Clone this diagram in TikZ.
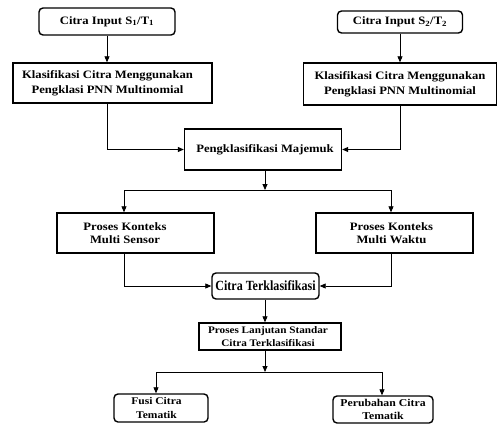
\documentclass[tikz,border=0pt]{standalone}
\usepackage{fontspec}
\setmainfont{Liberation Serif}
\newfontfamily\wfont[FakeStretch=1.12]{Liberation Serif}
\newfontfamily\cfont[FakeStretch=0.86]{Liberation Serif}
\usetikzlibrary{arrows.meta,calc}
\begin{document}
\begin{tikzpicture}[x=1pt,y=-1pt,
  box/.style={draw, line width=1.4pt, inner sep=0pt, align=center,
    font=\wfont\bfseries\fontsize{11.3}{15}\selectfont},
  rbox/.style={box, rounded corners=4pt},
  arr/.style={-{Triangle[length=6pt,width=5pt]}, line width=0.8pt},
  ln/.style={line width=0.8pt}]
\useasboundingbox (0,0) rectangle (498,424);
\fill[white] (0,0) rectangle (498,424);

\node[rbox, minimum width=136pt, minimum height=27pt] (in1) at (107,21.5) {Citra Input S\textsubscript{1}/T\textsubscript{1}};
\node[box, minimum width=199pt, minimum height=40pt] (kl1) at (112.5,83) {Klasifikasi Citra Menggunakan\hspace*{10pt}\\Pengklasi PNN Multinomial\hspace*{10pt}};
\node[rbox, minimum width=125pt, minimum height=22pt] (in2) at (400,22) {Citra Input S\textsubscript{2}/T\textsubscript{2}};
\node[box, minimum width=193pt, minimum height=42pt] (kl2) at (400,84) {Klasifikasi Citra Menggunakan\\Pengklasi PNN Multinomial};
\node[box, minimum width=157pt, minimum height=41pt] (maj) at (263,149.5) {\hspace*{4pt}Pengklasifikasi Majemuk};
\node[box, minimum width=157pt, minimum height=40pt, font=\wfont\bfseries\fontsize{11.3}{13.5}\selectfont] (sen) at (135.5,233) {Proses Konteks\hspace*{21pt}\\Multi Sensor\hspace*{21pt}};
\node[box, minimum width=157pt, minimum height=40pt, font=\wfont\bfseries\fontsize{11.3}{13.5}\selectfont] (wak) at (394.5,233) {Proses Konteks\hspace*{6pt}\\Multi Waktu\hspace*{6pt}};
\node[rbox, minimum width=107pt, minimum height=26pt, font=\cfont\bfseries\fontsize{14}{16}\selectfont] (ter) at (265.5,286) {Citra Terklasifikasi};
\node[box, minimum width=142pt, minimum height=27pt, font=\wfont\bfseries\fontsize{10}{13}\selectfont] (lan) at (270,336.5) {Proses Lanjutan Standar\hspace*{4pt}\\Citra Terklasifikasi\hspace*{4pt}};
\node[rbox, minimum width=94pt, minimum height=28pt, font=\wfont\bfseries\fontsize{10.3}{13.3}\selectfont] (fus) at (161,408) {Fusi Citra\hspace*{9pt}\\Tematik\hspace*{9pt}};
\node[rbox, minimum width=100pt, minimum height=27pt, font=\wfont\bfseries\fontsize{10.5}{13.3}\selectfont] (per) at (383,409.5) {Perubahan Citra\\Tematik};

\coordinate (c) at (265,0);
\coordinate (j1) at (265,190);
\coordinate (j2) at (265,372);

\draw[arr] (in1.south) -- (in1.south |- kl1.north);
\draw[arr] (in2.south) -- (in2.south |- kl2.north);
\draw[arr] (kl1.south -| in1.south) |- (maj.west);
\draw[arr] (kl2.south -| in2.south) |- (maj.east);
\draw[arr] (maj.south -| c) -- (j1);
\draw[arr] (j1) -| ([xshift=-11.5pt]sen.north);
\draw[arr] (j1) -| ([xshift=-3.5pt]wak.north);
\draw[arr] ([xshift=-11.5pt]sen.south) |- (ter.west);
\draw[arr] ([xshift=-3.5pt]wak.south) |- (ter.east);
\draw[arr] (ter.south -| c) -- (lan.north -| c);
\draw[arr] (lan.south -| c) -- (j2);
\draw[arr] (j2) -| ([xshift=-5pt]fus.north);
\draw[arr] (j2) -| ([xshift=-1pt]per.north);
\end{tikzpicture}
\end{document}
